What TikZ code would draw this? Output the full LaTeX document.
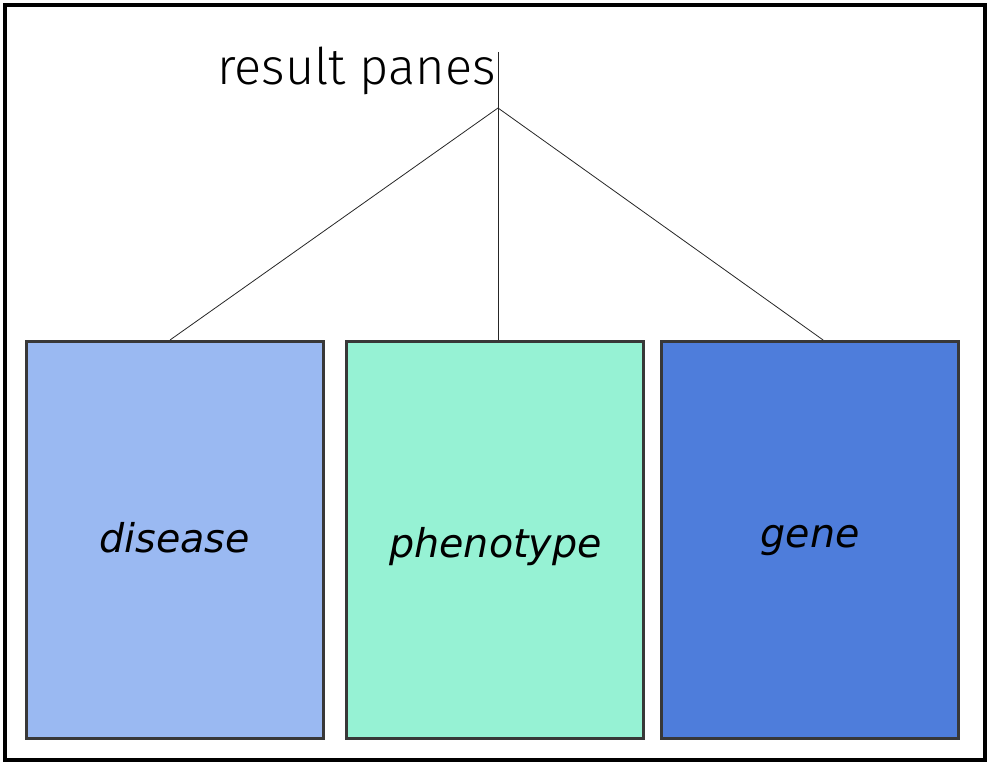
\documentclass[tikz,border=0pt]{standalone}
\usepackage{fontspec}
\setmainfont{DejaVu Sans}
\newfontfamily\titlefont{Fira Sans Light}
\definecolor{diseasecol}{HTML}{9AB9F2}
\definecolor{phenocol}{HTML}{96F2D4}
\definecolor{genecol}{HTML}{4E7DDB}
\definecolor{edgecol}{HTML}{383838}
\begin{document}
\begin{tikzpicture}[x=1pt,y=-1pt,
  pane/.style={draw=edgecol,line width=3pt,minimum width=297pt,minimum height=396.5pt,inner sep=0pt},
  panelabel/.style={font=\fontsize{39.6}{40}\selectfont\itshape,anchor=base,inner sep=0pt},
  link/.style={draw=black!85,line width=0.8pt}]
  \useasboundingbox (0,0) rectangle (990,765);
  \draw[line width=4pt] (5,5) rectangle (985,760);
  % panes
  \node[pane,fill=diseasecol] (disease) at (175,539.75) {};
  \node[pane,fill=phenocol] (phenotype) at (495.25,539.75) {};
  \node[pane,fill=genecol] (gene) at (810.1,539.75) {};
  \node[panelabel] (disease label) at (174.5,552) {disease};
  \node[panelabel] (phenotype label) at (495.5,557) {phenotype};
  \node[panelabel] (gene label) at (810,547) {gene};
  % title and tree
  \node[font=\titlefont\fontsize{50.5}{52}\selectfont,anchor=base east,inner sep=0pt] (title) at (496,85) {result panes};
  \coordinate (top) at (498,52);
  \coordinate (fork) at (498,108);
  \draw[link] (top) -- (fork);
  \draw[link] (fork) -- ([xshift=-5pt]disease.north);
  \draw[link] (fork) -- ([xshift=2.75pt]phenotype.north);
  \draw[link] (fork) -- ([xshift=13pt]gene.north);
\end{tikzpicture}
\end{document}
